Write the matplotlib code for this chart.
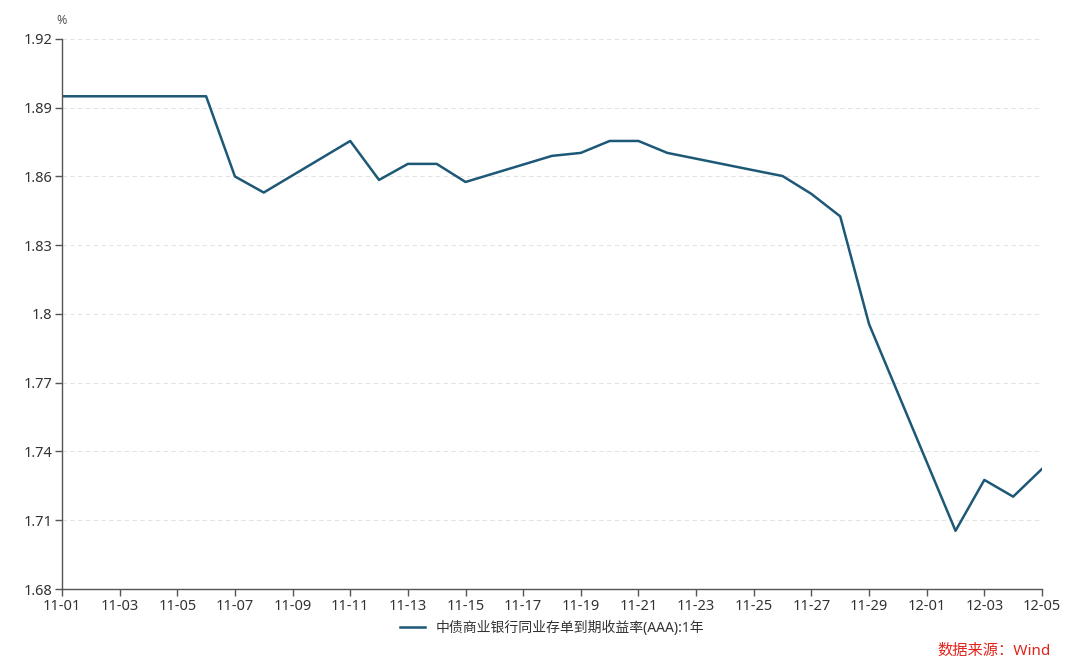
import matplotlib
matplotlib.use("Agg")
import matplotlib.pyplot as plt
import matplotlib.dates as mdates
import pandas as pd

plt.rcParams['font.family'] = ['Noto Sans', 'Noto Sans CJK SC', 'DejaVu Sans']

dates = ["2024-11-01", "2024-11-04", "2024-11-05", "2024-11-06", "2024-11-07",
         "2024-11-08", "2024-11-11", "2024-11-12", "2024-11-13", "2024-11-14",
         "2024-11-15", "2024-11-18", "2024-11-19", "2024-11-20", "2024-11-21",
         "2024-11-22", "2024-11-25", "2024-11-26", "2024-11-27", "2024-11-28",
         "2024-11-29", "2024-12-02", "2024-12-03", "2024-12-04", "2024-12-05"]
yields = [1.895, 1.895, 1.895, 1.895, 1.860,
          1.853, 1.8755, 1.8585, 1.8655, 1.8655,
          1.8576, 1.869, 1.8703, 1.8755, 1.8755,
          1.8703, 1.8627, 1.8602, 1.8524, 1.8426,
          1.7956, 1.7054, 1.7276, 1.7203, 1.7324]
series_name = "中债商业银行同业存单到期收益率(AAA):1年"
yticks = [1.68, 1.71, 1.74, 1.77, 1.80, 1.83, 1.86, 1.89, 1.92]

x = pd.to_datetime(dates)

fig = plt.figure(figsize=(10.8, 6.71), dpi=100)
ax = fig.add_axes([0.0574, 0.1222, 0.9074, 0.8197])

line_color = "#1d5876"
axis_color = "#555555"
ax.plot(x, yields, color=line_color, linewidth=1.8, label=series_name)

ax.set_ylim(1.68, 1.92)
ax.set_yticks(yticks)
ax.set_yticklabels([f"{v:g}" for v in yticks])
ax.set_xlim(pd.Timestamp("2024-11-01"), pd.Timestamp("2024-12-05"))
ticks = pd.date_range("2024-11-01", "2024-12-05", freq="2D")
ax.set_xticks(ticks)
ax.xaxis.set_major_formatter(mdates.DateFormatter("%m-%d"))

ax.grid(axis="y", color="#e3e3e3", linestyle=(0, (4, 3)), linewidth=0.8)
ax.set_axisbelow(True)
for s in ["top", "right"]:
    ax.spines[s].set_visible(False)
for s in ["left", "bottom"]:
    ax.spines[s].set_color(axis_color)
    ax.spines[s].set_linewidth(1.0)
ax.tick_params(axis="both", colors=axis_color, labelcolor="#333333",
               labelsize=10.5, length=5, width=1.0, pad=2)

ax.text(0.0, 1.022, "%", transform=ax.transAxes, ha="center", va="bottom",
        fontsize=9, color="#555555")

ax.legend(loc="upper center", bbox_to_anchor=(0.5, -0.035), frameon=False,
          fontsize=10, handlelength=1.8, labelcolor="#333333")

fig.text(0.973, 0.018, "数据来源：Wind", ha="right", va="bottom",
         fontsize=11, color="#e0241b")

fig.savefig("out.png", dpi=100)
